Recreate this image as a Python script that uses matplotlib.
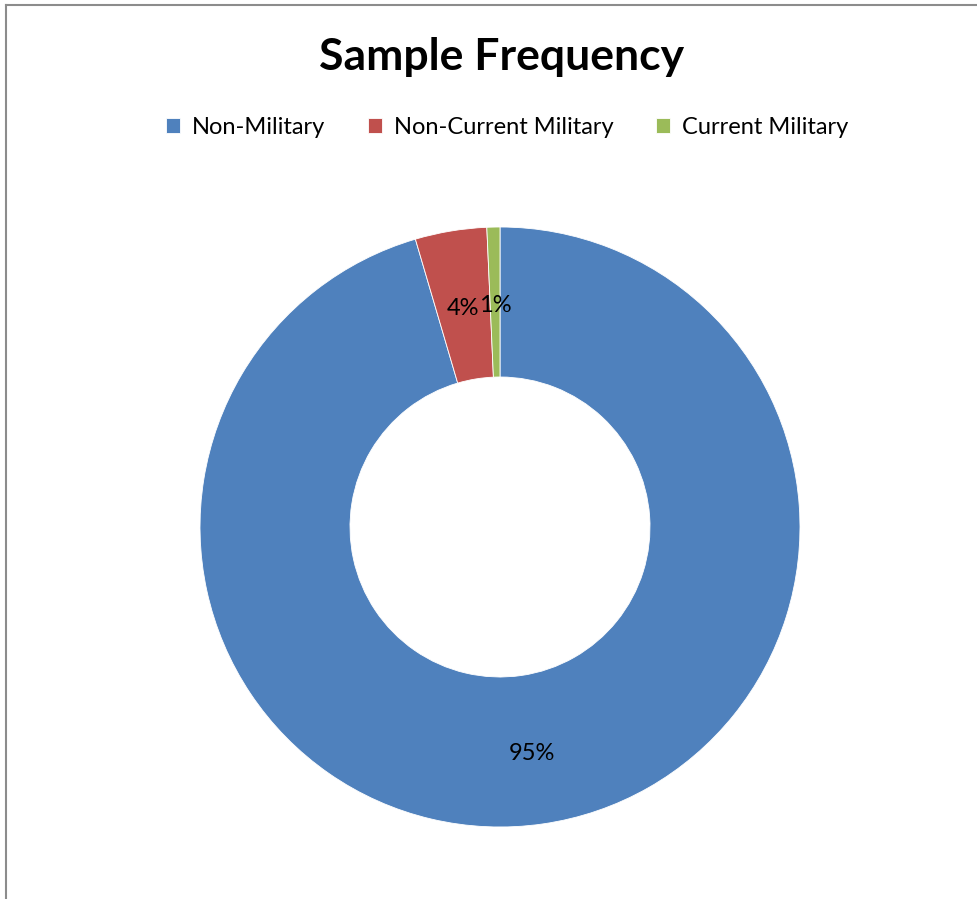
import matplotlib.pyplot as plt
import numpy as np
from matplotlib.lines import Line2D

plt.rcParams['font.family'] = ['Lato', 'DejaVu Sans']

labels = ['Non-Military', 'Non-Current Military', 'Current Military']
values = [95.45, 3.85, 0.7]
colors = ['#4F81BD', '#C0504D', '#9BBB59']

W, H = 978, 899
fig = plt.figure(figsize=(W / 100, H / 100), dpi=100)

# chart frame (top and left edges)
fig.add_artist(Line2D([5.5 / W, 1], [1 - 4.5 / H, 1 - 4.5 / H], color='#8c8c8c', lw=1.5))
fig.add_artist(Line2D([5.5 / W, 5.5 / W], [0, 1 - 4.5 / H], color='#8c8c8c', lw=1.5))

# donut: centre (500, 527) px, outer radius 300 px
cx, cy, r = 500, 527, 300
ax = fig.add_axes([(cx - r) / W, (H - cy - r) / H, 2 * r / W, 2 * r / H])
wedges, _ = ax.pie(values, colors=colors, startangle=90, counterclock=False,
                   radius=1, wedgeprops=dict(width=0.5, edgecolor='white', linewidth=0.6))
ax.set_xlim(-1, 1)
ax.set_ylim(-1, 1)
ax.set_aspect('equal')
ax.axis('off')

# percentage labels at the middle of the ring
start = 90.0
total = sum(values)
for v in values:
    sweep = 360.0 * v / total
    mid = np.deg2rad(start - sweep / 2)
    x, y = 0.75 * np.cos(mid), 0.75 * np.sin(mid) - 0.012
    ax.text(x, y, '%d%%' % round(100 * v / total), ha='center', va='center',
            fontsize=17, color='black')
    start -= sweep

fig.text(502 / W, 1 - 57 / H, 'Sample Frequency', ha='center', va='center',
         fontsize=32, fontweight='bold')

fig.legend(wedges, labels, loc='center', bbox_to_anchor=(507 / W, 1 - 127 / H),
           ncol=3, frameon=False, fontsize=17, handlelength=0.6, handleheight=0.6,
           handletextpad=0.5, columnspacing=1.8, borderpad=0)

plt.savefig('out.png', dpi=100)
